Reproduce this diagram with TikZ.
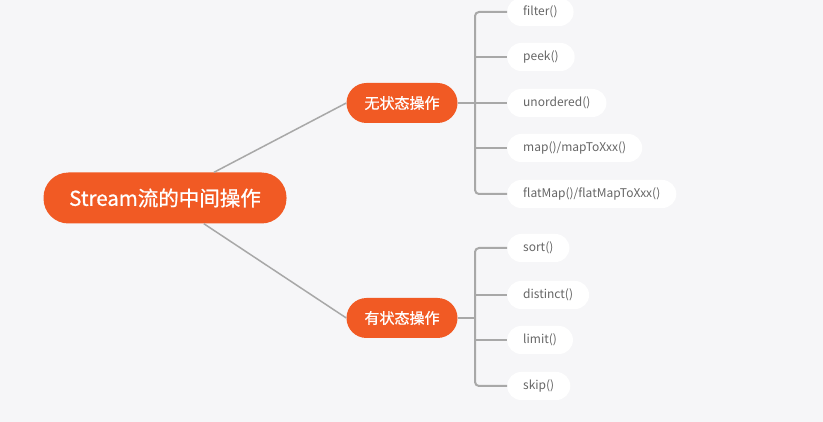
\documentclass[tikz,border=0pt]{standalone}
\usepackage{fontspec}
\setmainfont{Noto Sans CJK SC}
\newfontfamily\medfont{Noto Sans CJK SC}[FakeBold=0.8]
\definecolor{bgc}{HTML}{F6F6F8}
\definecolor{orng}{HTML}{F15A24}
\definecolor{linec}{HTML}{A8A8A8}
\definecolor{leaftxt}{HTML}{666666}
\begin{document}
\begin{tikzpicture}[x=1pt,y=-1pt,
  rootbox/.style={fill=orng,text=white,rounded corners=25pt,minimum width=243pt,minimum height=51pt,inner sep=0pt,font=\medfont\fontsize{20.5}{24}\selectfont},
  midbox/.style={fill=orng,text=white,rounded corners=20pt,minimum width=111pt,minimum height=40pt,inner sep=0pt,font=\medfont\fontsize{15}{18}\selectfont},
  leafbox/.style={fill=white,text=leaftxt,rounded corners=14pt,minimum height=28pt,inner xsep=16pt,inner ysep=0pt,anchor=west,font=\fontsize{12}{14}\selectfont},
  conn/.style={draw=linec,line width=1.5pt},
  branch/.style={draw=linec,line width=2pt,rounded corners=4pt}]
\useasboundingbox[fill=bgc] (0,0) rectangle (823,422);
\node[rootbox] (root) at (165,198) {Stream流的中间操作};
\node[midbox] (a) at (402,103) {无状态操作};
\node[midbox] (b) at (402,318) {有状态操作};
\coordinate (bara) at (475,103);
\coordinate (barb) at (475,318);
\node[leafbox] (a1) at (507,12) {filter()};
\node[leafbox] (a2) at (507,57) {peek()};
\node[leafbox] (a3) at (507,103) {unordered()};
\node[leafbox] (a4) at (507,148) {map()/mapToXxx()};
\node[leafbox] (a5) at (507,194) {flatMap()/flatMapToXxx()};
\node[leafbox] (b1) at (507,248) {sort()};
\node[leafbox] (b2) at (507,295) {distinct()};
\node[leafbox] (b3) at (507,340) {limit()};
\node[leafbox] (b4) at (507,386) {skip()};
\draw[conn] (root) -- (a.west);
\draw[conn] (root) -- (b.west);
\draw[branch] (a.east) -- (bara);
\draw[branch] (a1.west) -| (bara) |- (a5.west);
\draw[branch] (bara |- a2.west) -- (a2.west);
\draw[branch] (bara |- a3.west) -- (a3.west);
\draw[branch] (bara |- a4.west) -- (a4.west);
\draw[branch] (b.east) -- (barb);
\draw[branch] (b1.west) -| (barb) |- (b4.west);
\draw[branch] (barb |- b2.west) -- (b2.west);
\draw[branch] (barb |- b3.west) -- (b3.west);
\end{tikzpicture}
\end{document}
